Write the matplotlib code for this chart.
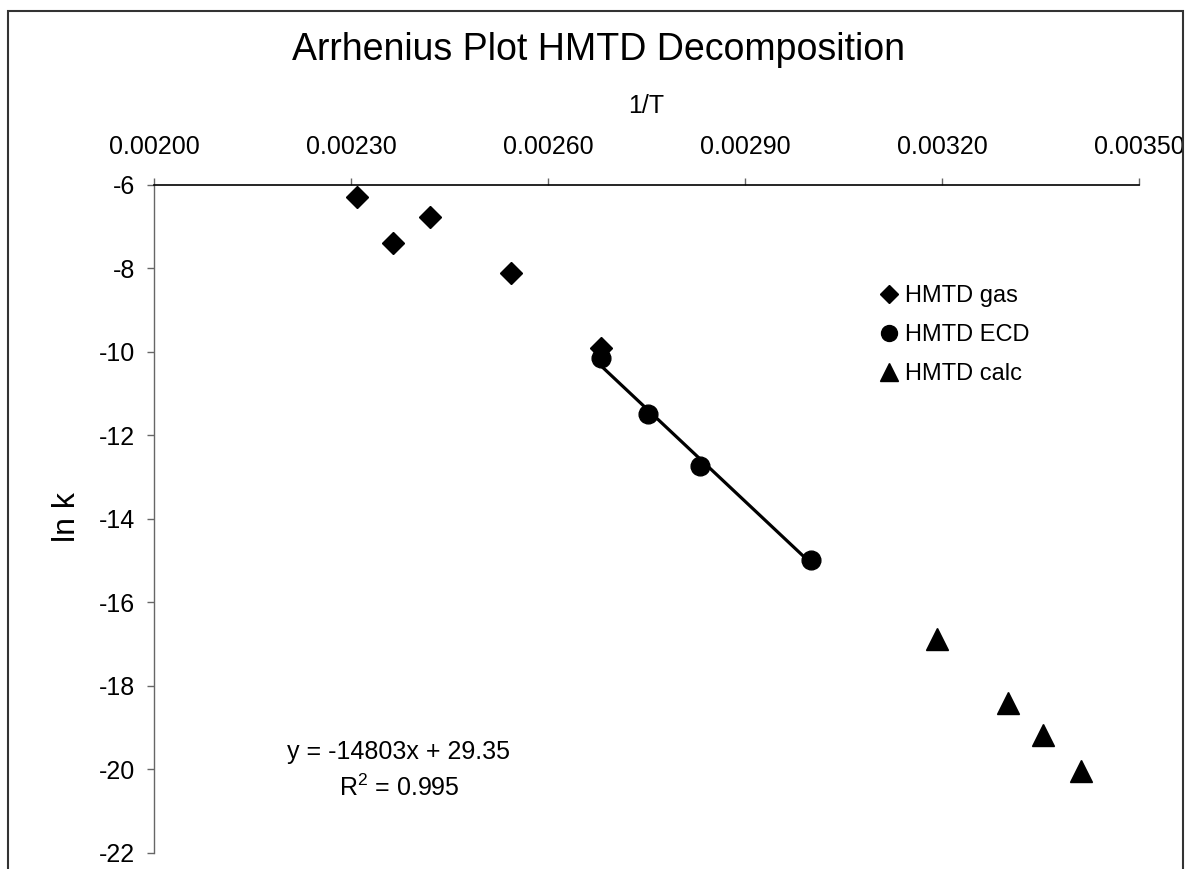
import numpy as np
import matplotlib
matplotlib.use("Agg")
import matplotlib.pyplot as plt
from matplotlib.patches import Rectangle

plt.rcParams['font.family'] = ['Liberation Sans', 'DejaVu Sans']
plt.rcParams['axes.unicode_minus'] = False

# Data
gas_x = [0.002309, 0.002364, 0.002421, 0.002544, 0.002681]
gas_y = [-6.29, -7.40, -6.77, -8.12, -9.91]

ecd_x = [0.002680, 0.002752, 0.002831, 0.003001]
ecd_y = [-10.15, -11.49, -12.73, -14.99]

calc_x = [0.003193, 0.003300, 0.003354, 0.003412]
calc_y = [-16.88, -18.42, -19.18, -20.05]

fit_slope = -14803
fit_icept = 29.35
fit_label = "y = -14803x + 29.35\n$\\mathregular{R^2}$ = 0.995"

xticks = [0.00200, 0.00230, 0.00260, 0.00290, 0.00320, 0.00350]
yticks = [-22, -20, -18, -16, -14, -12, -10, -8, -6]

W, H = 1188, 869
fig = plt.figure(figsize=(W / 100, H / 100), dpi=100)
ax = fig.add_axes([154 / W, 1 - 852.7 / H, (1139 - 154) / W, (852.7 - 185) / H])

# outer chart frame
fig.patches.append(Rectangle((8 / W, -0.02), (1183 - 8) / W, 1 - 11 / H + 0.02,
                             transform=fig.transFigure, fill=False,
                             edgecolor='#333333', linewidth=1.5))

ax.plot(gas_x, gas_y, 'D', color='black', ms=11, label='HMTD gas', zorder=3)
ax.plot(ecd_x, ecd_y, 'o', color='black', ms=13.5, label='HMTD ECD', zorder=3)
ax.plot(calc_x, calc_y, '^', color='black', ms=15.5, label='HMTD calc', zorder=3)

# linear trendline over the ECD range
tx = np.array([min(ecd_x), max(ecd_x)])
ax.plot(tx, fit_slope * tx + fit_icept, color='black', lw=2.3, zorder=2)

ax.set_xlim(0.002, 0.0035)
ax.set_ylim(-22, -6)
ax.set_xticks(xticks)
ax.set_xticklabels(["%.5f" % v for v in xticks])
ax.set_yticks(yticks)

ax.xaxis.tick_top()
ax.spines['bottom'].set_visible(False)
ax.spines['right'].set_visible(False)
ax.spines['top'].set_color('black')
ax.spines['top'].set_linewidth(1.2)
ax.spines['left'].set_color('#666666')
ax.spines['left'].set_linewidth(1.0)
ax.tick_params(axis='x', direction='out', length=5, width=1, color='#666666',
               labelsize=18, pad=14)
ax.tick_params(axis='y', direction='out', length=5, width=1, color='#666666',
               labelsize=18, pad=8.6)

ax.xaxis.set_label_position('top')
ax.set_xlabel("1/T", fontsize=18)
ax.xaxis.set_label_coords(0.5, 1.108)
ax.set_ylabel("ln k", fontsize=23)
ax.yaxis.set_label_coords(-0.073, 0.503)

fig.text(599 / W, 1 - 60.5 / H, "Arrhenius Plot HMTD Decomposition",
         ha='center', va='baseline', fontsize=27)

ax.text(0.002373, -20.02, fit_label, ha='center', va='center', fontsize=18,
        linespacing=1.5)

ax.legend(loc='upper left', bbox_to_anchor=(880 / W, 1 - 285 / H),
          bbox_transform=fig.transFigure, frameon=False, fontsize=17,
          handlelength=0.8, handletextpad=0.25, labelspacing=0.72,
          borderpad=0, borderaxespad=0, markerscale=0.85, numpoints=1)

fig.savefig("out.png", dpi=100)
